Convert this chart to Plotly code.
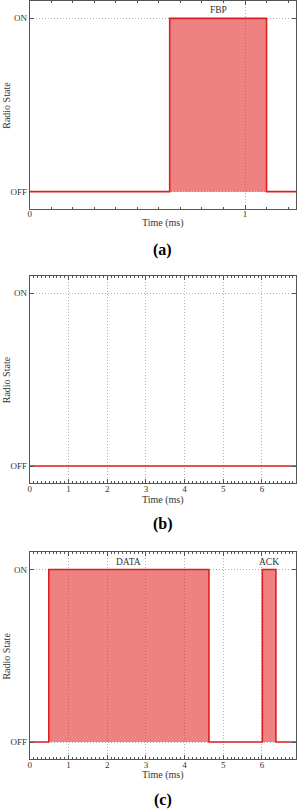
import plotly.graph_objects as go

# ---- data ----
fbp_time = [0, 0.65, 1.10, 1.237]
fbp_state = [0, 1, 0, 0]

idle_time = [0, 6.88]
idle_state = [0, 0]

tx_time = [0, 0.49, 4.63, 6.01, 6.36, 6.88]
tx_state = [0, 1, 0, 1, 0, 0]

state_ticks = [0, 1]
state_labels = ["OFF", "ON"]

pulse_labels = [
    (1, "FBP", 0.875),
    (3, "DATA", 2.56),
    (3, "ACK", 6.185),
]
panel_names = ["(a)", "(b)", "(c)"]
x_ranges = [[0, 1.237], [0, 6.88], [0, 6.88]]
x_dticks = [1, 1, 1]

# ---- layout geometry (pixels) ----
W, H = 298, 809
X0, X1 = 28, 296
panels_px = [(1, 209), (275.7, 483.3), (552.3, 759.3)]
title_gap = [14.5, 16.5, 16]
label_standoff = [-4, -3, -3]

FONT = "Liberation Serif"
RED = "#dd1f1f"
FILL = "rgba(226, 40, 40, 0.58)"
AXC = "#555555"
TXT = "#333333"
GRID = "#b0b0b0"

def py(p):
    return 1 - p / H

def px(p):
    return p / W

fig = go.Figure()
series = [(fbp_time, fbp_state), (idle_time, idle_state), (tx_time, tx_state)]
for i, (t, s) in enumerate(series):
    n = i + 1
    fig.add_trace(go.Scatter(
        x=t, y=s, mode="lines", line=dict(color=RED, width=1.6, shape="hv"),
        fill="tozeroy", fillcolor=FILL if max(s) > 0 else "rgba(0,0,0,0)",
        xaxis=f"x{n}", yaxis=f"y{n}", showlegend=False, hoverinfo="skip",
    ))

layout = dict(
    width=W, height=H, margin=dict(l=0, r=0, t=0, b=0),
    paper_bgcolor="white", plot_bgcolor="white",
    font=dict(family=FONT, size=9, color=TXT), showlegend=False,
)
annotations = []
for i, (top, bot) in enumerate(panels_px):
    n = i + 1
    sx = "" if n == 1 else str(n)
    layout[f"xaxis{sx}"] = dict(
        domain=[px(X0), px(X1)], anchor=f"y{n}", range=x_ranges[i],
        dtick=x_dticks[i], tick0=0, ticks="inside", ticklen=4, tickcolor=AXC,
        minor=dict(dtick=0.1, ticks="inside", ticklen=2, tickcolor=AXC, showgrid=False),
        showline=True, linecolor=AXC, linewidth=1, mirror="ticks",
        showgrid=True, gridcolor=GRID, griddash="1px,2px", gridwidth=1,
        zeroline=False, tickfont=dict(family=FONT, size=9, color=TXT),
        ticklabelstandoff=label_standoff[i],
    )
    layout[f"yaxis{sx}"] = dict(
        domain=[py(bot), py(top)], anchor=f"x{n}", range=[-0.1, 1.1],
        tickvals=state_ticks, ticktext=state_labels,
        ticks="inside", ticklen=4, tickcolor=AXC,
        showline=True, linecolor=AXC, linewidth=1, mirror="ticks",
        showgrid=True, gridcolor=GRID, griddash="1px,2px", gridwidth=1,
        zeroline=False, tickfont=dict(family=FONT, size=9, color=TXT),
    )
    cx = (X0 + X1) / 2
    annotations.append(dict(
        text="Time (ms)", x=px(cx), y=py(bot + title_gap[i]), xref="paper", yref="paper",
        showarrow=False, font=dict(family=FONT, size=10, color=TXT),
        xanchor="center", yanchor="middle"))
    annotations.append(dict(
        text="Radio State", x=px(4.8), y=py((top + bot) / 2), xref="paper", yref="paper",
        showarrow=False, textangle=-90, font=dict(family=FONT, size=10, color=TXT),
        xanchor="center", yanchor="middle"))
    annotations.append(dict(
        text=f"<b>{panel_names[i]}</b>", x=px(cx), y=py(bot + 41), xref="paper", yref="paper",
        showarrow=False, font=dict(family=FONT, size=16, color="black"),
        xanchor="center", yanchor="middle"))

for n, label, xc in pulse_labels:
    annotations.append(dict(
        text=label, x=xc, y=1, xref=f"x{n}", yref=f"y{n}", yshift=8,
        showarrow=False, font=dict(family=FONT, size=9.5, color=TXT),
        xanchor="center", yanchor="middle"))

layout["annotations"] = annotations
fig.update_layout(**layout)
fig.write_html(
    "out.html",
    config={"displayModeBar": False},
    post_script="document.body.style.margin='0';document.body.style.overflow='hidden';",
)
